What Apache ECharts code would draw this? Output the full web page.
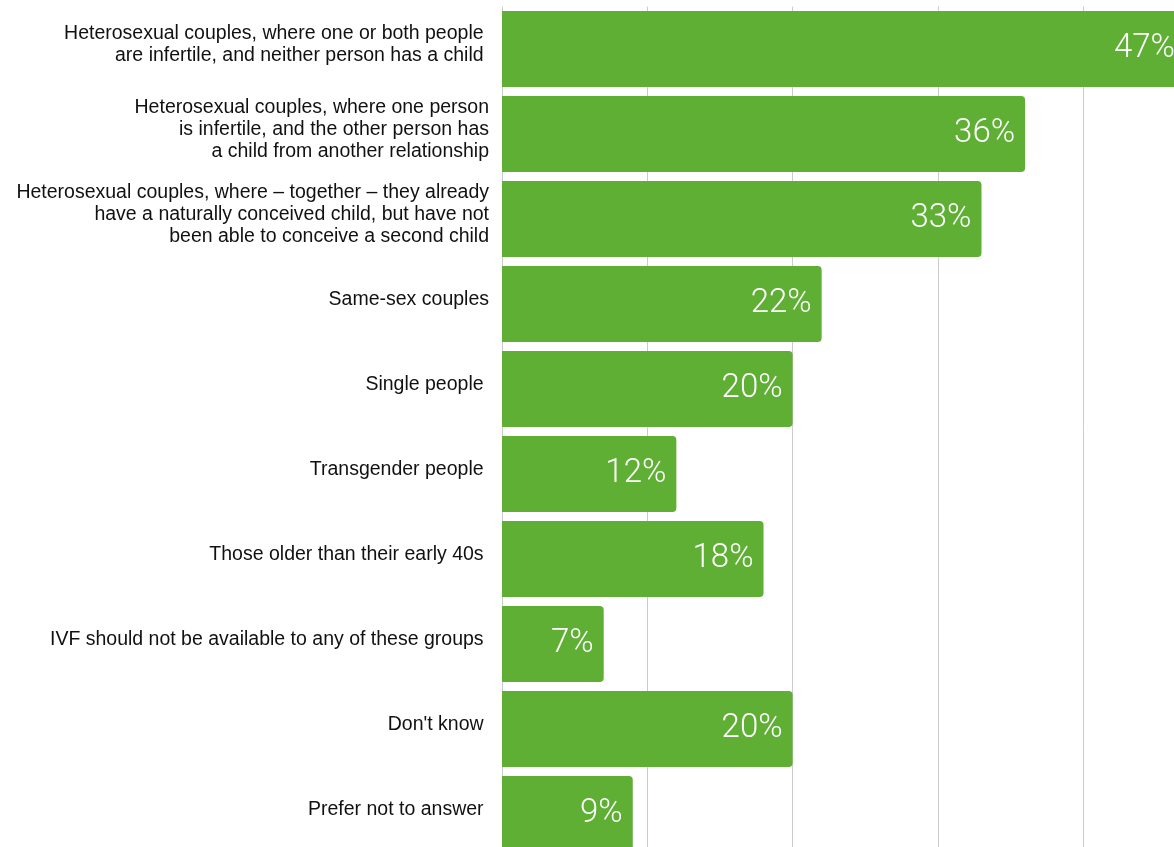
<!DOCTYPE html>
<html>
<head>
<meta charset="utf-8">
<script src="https://cdn.jsdelivr.net/npm/echarts@6/dist/echarts.min.js"></script>
<style>
  html, body { margin: 0; padding: 0; background: #ffffff; }
  #chart { width: 1174px; height: 847px; }
</style>
</head>
<body>
<div id="chart"></div>
<script>
// Groups asked about for IVF eligibility (top to bottom)
const categories = [
  "Heterosexual couples, where one or both people \nare infertile, and neither person has a child ",
  "Heterosexual couples, where one person\nis infertile, and the other person has\na child from another relationship",
  "Heterosexual couples, where \u2013 together \u2013 they already\nhave a naturally conceived child, but have not\nbeen able to conceive a second child",
  "Same-sex couples",
  "Single people ",
  "Transgender people ",
  "Those older than their early 40s ",
  "IVF should not be available to any of these groups ",
  "Don't know ",
  "Prefer not to answer "
];

// Share of respondents (%)
const values = [47, 36, 33, 22, 20, 12, 18, 7, 20, 9];

// Value axis ticks (%)
const axisMin = 0;
const axisMax = 50;
const axisStep = 10;

const chart = echarts.init(document.getElementById('chart'), null, { renderer: 'canvas' });

chart.setOption({
  animation: false,
  backgroundColor: '#ffffff',
  grid: {
    left: 502,
    top: 6.5,
    width: 726.5,
    height: 850,
    containLabel: false,
    outerBoundsMode: 'none'
  },
  xAxis: {
    type: 'value',
    min: axisMin,
    max: axisMax,
    interval: axisStep,
    axisLine: { show: false },
    axisTick: { show: false },
    axisLabel: { show: false },
    splitLine: { show: true, lineStyle: { color: '#cccccc', width: 1 } }
  },
  yAxis: {
    type: 'category',
    data: categories,
    inverse: true,
    axisLine: { show: false },
    axisTick: { show: false },
    axisLabel: {
      margin: 13,
      color: '#111111',
      fontSize: 19.5,
      lineHeight: 22,
      fontFamily: '"Liberation Sans", Arial, sans-serif',
      align: 'right',
      // an empty short line underneath lifts each label slightly above the bar centre
      formatter: function (v) { return v + '\n{gap| }'; },
      rich: {
        gap: { lineHeight: 8, fontSize: 2 }
      }
    }
  },
  series: [{
    type: 'bar',
    data: values,
    barWidth: 76,
    itemStyle: {
      color: '#5eaf33',
      borderRadius: [0, 4, 4, 0]
    },
    label: {
      show: true,
      position: 'insideRight',
      distance: 10,
      formatter: '{c}%',
      color: '#ffffff',
      fontSize: 33,
      fontFamily: 'Roboto, "Open Sans", sans-serif',
      fontWeight: 300
    }
  }]
});
</script>
</body>
</html>
